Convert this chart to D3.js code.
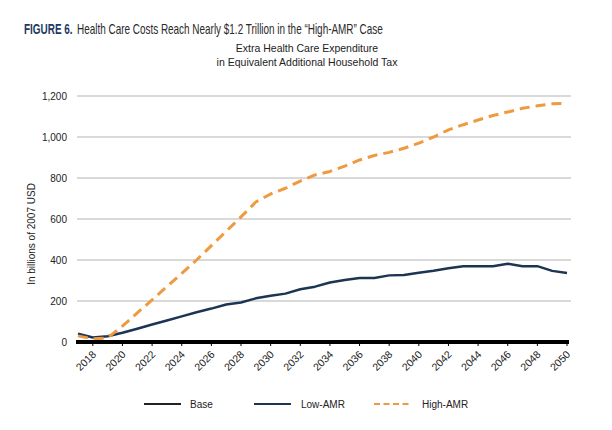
<!DOCTYPE html>
<html>
<head>
<meta charset="utf-8">
<script src="https://cdn.jsdelivr.net/npm/d3@7"></script>
<style>
  html, body { margin: 0; padding: 0; background: #fff; }
  svg { display: block; }
</style>
</head>
<body>
<svg id="chart" width="612" height="430"></svg>
<script>
const years = d3.range(2017, 2051);
const baseValues = years.map(() => 0);
const lowAMR = [40, 22, 28, 45, 65, 85, 105, 125, 145, 163, 183, 193, 213, 226, 236, 257, 270, 290, 302, 312, 312, 325, 327, 338, 348, 360, 370, 370, 370, 382, 370, 370, 347, 337];
const highAMR = [30, 15, 20, 78, 142, 205, 270, 335, 400, 470, 540, 610, 683, 722, 750, 785, 815, 832, 858, 888, 910, 925, 945, 970, 1000, 1035, 1060, 1083, 1105, 1122, 1140, 1152, 1162, 1165];
const yTicks = [0, 200, 400, 600, 800, 1000, 1200];
const xTickYears = d3.range(2018, 2051, 2);
const seriesNames = ["Base", "Low-AMR", "High-AMR"];

const titleBold = "FIGURE 6.";
const titleText = "Health Care Costs Reach Nearly $1.2 Trillion in the “High-AMR” Case";
const subtitle = ["Extra Health Care Expenditure", "in Equivalent Additional Household Tax"];
const yLabel = "In billions of 2007 USD";

const svg = d3.select("#chart");
const font = "'Liberation Sans', Arial, sans-serif";

const x = d3.scaleLinear().domain([2017, 2050]).range([78, 567]);
const y = d3.scaleLinear().domain([0, 1200]).range([342, 96]);

// Title: condensed look via horizontal scaling of the whole group
const tg = svg.append("g");
const tBold = tg.append("text").attr("x", 0).attr("y", 0)
  .attr("font-family", font).attr("font-size", 14.5)
  .attr("font-weight", "bold").attr("fill", "#1d3a5e").text(titleBold);
const tReg = tg.append("text").attr("y", 0)
  .attr("font-family", font).attr("font-size", 14.5)
  .attr("fill", "#2a2a2a").text(titleText);
const regW = tReg.node().getComputedTextLength();
const sx = 306 / regW;
const boldW = tBold.node().getComputedTextLength();
tReg.attr("x", Math.max(53 / sx, boldW + 4));
tg.attr("transform", `translate(24,34) scale(${sx},1)`);

// Subtitle
svg.selectAll(".sub").data(subtitle).enter().append("text")
  .attr("x", 307).attr("y", (d, i) => 52 + i * 14)
  .attr("text-anchor", "middle").attr("font-family", font)
  .attr("font-size", 10.5).attr("fill", "#222").text(d => d);

// Gridlines
svg.append("g").selectAll("line").data(yTicks.filter(d => d > 0)).enter().append("line")
  .attr("x1", 77).attr("x2", 571)
  .attr("y1", d => y(d)).attr("y2", d => y(d))
  .attr("stroke", "#b3b3b3").attr("stroke-width", 1);

// Y tick labels
svg.append("g").selectAll("text").data(yTicks).enter().append("text")
  .attr("x", 67).attr("y", d => y(d) + 3.5)
  .attr("text-anchor", "end").attr("font-family", font)
  .attr("font-size", 10).attr("fill", "#222")
  .text(d => d3.format(",")(d));

// Y axis title
svg.append("text")
  .attr("transform", "translate(35,234) rotate(-90)")
  .attr("text-anchor", "middle").attr("font-family", font)
  .attr("font-size", 10).attr("fill", "#222").text(yLabel);

// X ticks
svg.append("g").selectAll("line").data(xTickYears).enter().append("line")
  .attr("x1", d => x(d)).attr("x2", d => x(d))
  .attr("y1", 342).attr("y2", 346)
  .attr("stroke", "#000").attr("stroke-width", 1);

// X tick labels
svg.append("g").selectAll("text").data(xTickYears).enter().append("text")
  .attr("transform", d => `translate(${x(d) + 4},${355}) rotate(-45)`)
  .attr("text-anchor", "end").attr("font-family", font)
  .attr("font-size", 10.5).attr("fill", "#222").text(d => d);

const line = d3.line().x((d, i) => x(years[i])).y(d => y(d));

// Low-AMR
svg.append("path").datum(lowAMR).attr("d", line)
  .attr("fill", "none").attr("stroke", "#1c3553").attr("stroke-width", 2.5)
  .attr("stroke-linejoin", "round");

// High-AMR
svg.append("path").datum(highAMR).attr("d", line)
  .attr("fill", "none").attr("stroke", "#ef9a3f").attr("stroke-width", 3)
  .attr("stroke-dasharray", "10,6").attr("stroke-linejoin", "round");

// Base
svg.append("path").datum(baseValues).attr("d", line)
  .attr("fill", "none").attr("stroke", "#000").attr("stroke-width", 4)
  .attr("stroke-linecap", "square");

// Legend
const legend = [
  { name: seriesNames[0], color: "#222", dash: null, lx: 144, tx: 190 },
  { name: seriesNames[1], color: "#1c3553", dash: null, lx: 254, tx: 301 },
  { name: seriesNames[2], color: "#ef9a3f", dash: "6,3.5", lx: 374, tx: 422 }
];
const lg = svg.append("g");
legend.forEach(l => {
  lg.append("line").attr("x1", l.lx).attr("x2", l.lx + 37)
    .attr("y1", 404).attr("y2", 404)
    .attr("stroke", l.color).attr("stroke-width", 2)
    .attr("stroke-dasharray", l.dash);
  lg.append("text").attr("x", l.tx).attr("y", 408)
    .attr("font-family", font).attr("font-size", 10).attr("fill", "#222").text(l.name);
});
</script>
</body>
</html>
